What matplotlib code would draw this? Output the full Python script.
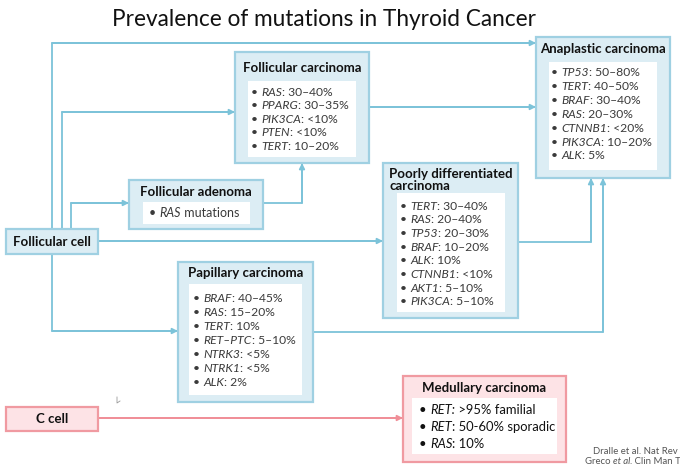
import matplotlib
matplotlib.use("Agg")
import matplotlib.pyplot as plt
from matplotlib.patches import Rectangle

plt.rcParams['font.family'] = ['Lato', 'DejaVu Sans']

# ---------------- data ----------------
chart_title = "Prevalence of mutations in Thyroid Cancer"
origin_labels = ["Follicular cell", "C cell"]

fc_title = "Follicular carcinoma"
fc_genes = ["RAS", "PPARG", "PIK3CA", "PTEN", "TERT"]
fc_values = [": 30–40%", ": 30–35%", ": <10%", ": <10%", ": 10–20%"]

fa_title = "Follicular adenoma"
fa_genes = ["RAS"]
fa_values = [" mutations"]

ana_title = "Anaplastic carcinoma"
ana_genes = ["TP53", "TERT", "BRAF", "RAS", "CTNNB1", "PIK3CA", "ALK"]
ana_values = [": 50–80%", ": 40–50%", ": 30–40%", ": 20–30%", ": <20%", ": 10–20%", ": 5%"]

pd_title = "Poorly differentiated\ncarcinoma"
pd_genes = ["TERT", "RAS", "TP53", "BRAF", "ALK", "CTNNB1", "AKT1", "PIK3CA"]
pd_values = [": 30–40%", ": 20–40%", ": 20–30%", ": 10–20%", ": 10%", ": <10%", ": 5–10%", ": 5–10%"]

pap_title = "Papillary carcinoma"
pap_genes = ["BRAF", "RAS", "TERT", "RET–PTC", "NTRK3", "NTRK1", "ALK"]
pap_values = [": 40–45%", ": 15–20%", ": 10%", ": 5–10%", ": <5%", ": <5%", ": 2%"]

med_title = "Medullary carcinoma"
med_genes = ["RET:", "RET", "RAS"]
med_values = [" >95% familial", ": 50-60% sporadic", ": 10%"]

citations = ["Dralle et al. Nat Rev", ("Greco ", "et al.", " Clin Man T")]

# ---------------- styles ----------------
BLUE_FILL = "#dcedf4"
BLUE_EDGE = "#9fd0e2"
LINE_BLUE = "#7cc3d9"
PINK_FILL = "#fde3e6"
PINK_EDGE = "#f09aa1"
LINE_PINK = "#f08f98"
TXT = "#111111"
ITEM_TXT = "#3a3a3a"
HEAD = 9.5
ITEM = 8.7

W, H = 680, 467
fig = plt.figure(figsize=(W / 100, H / 100), dpi=100)
ax = fig.add_axes([0, 0, 1, 1])
ax.set_xlim(0, W)
ax.set_ylim(H, 0)
ax.axis('off')
renderer = fig.canvas.get_renderer()


def box(outer, inner, fill, edge):
    x0, y0, x1, y1 = outer
    ax.add_patch(Rectangle((x0, y0), x1 - x0, y1 - y0, facecolor=fill,
                           edgecolor=edge, lw=1.6, zorder=2))
    if inner is not None:
        a0, b0, a1, b1 = inner
        ax.add_patch(Rectangle((a0, b0), a1 - a0, b1 - b0, facecolor="white",
                               edgecolor="none", zorder=3))


def rich_line(x, y, parts, size, color):
    """parts: list of (text, italic)"""
    for txt, it in parts:
        t = ax.text(x, y, txt, fontsize=size, color=color, va='center', ha='left',
                    style='italic' if it else 'normal', zorder=5)
        bb = t.get_window_extent(renderer=renderer)
        x += bb.width * (W / fig.bbox.width)


def items(xb, y0, dy, genes, values, size=ITEM, color=ITEM_TXT):
    for i, (g, v) in enumerate(zip(genes, values)):
        rich_line(xb, y0 + i * dy, [("• ", False), (g, True), (v, False)], size, color)


def arrow_path(pts, color, lw=1.3):
    xs = [p[0] for p in pts]
    ys = [p[1] for p in pts]
    ax.plot(xs, ys, color=color, lw=lw, solid_capstyle='butt', zorder=1)
    ax.annotate("", xy=pts[-1], xytext=pts[-2],
                arrowprops=dict(arrowstyle='-|>', color=color, lw=lw,
                                mutation_scale=8, shrinkA=0, shrinkB=0),
                zorder=1)


# ---------------- arrows ----------------
arrow_path([(52, 229), (52, 43), (536, 43)], LINE_BLUE)
arrow_path([(62, 229), (62, 112), (235, 112)], LINE_BLUE)
arrow_path([(71, 229), (71, 203), (129, 203)], LINE_BLUE)
arrow_path([(263, 203), (302, 203), (302, 163)], LINE_BLUE)
arrow_path([(369, 107), (536, 107)], LINE_BLUE)
arrow_path([(98, 241), (383, 241)], LINE_BLUE)
arrow_path([(52, 254), (52, 331), (178, 331)], LINE_BLUE)
arrow_path([(518, 242), (591, 242), (591, 178)], LINE_BLUE)
arrow_path([(313, 332), (603, 332), (603, 178)], LINE_BLUE)
arrow_path([(98, 418), (403, 418)], LINE_PINK)

# ---------------- title ----------------
ax.text(324, 19, chart_title, fontsize=16.3, color=TXT, ha='center', va='center')

# ---------------- origin boxes ----------------
box((6, 229, 98, 254), None, BLUE_FILL, BLUE_EDGE)
ax.text(52, 241.5, origin_labels[0], fontsize=HEAD, weight='bold', color=TXT,
        ha='center', va='center', zorder=5)
box((6, 407, 98, 431), None, PINK_FILL, PINK_EDGE)
ax.text(52, 419, origin_labels[1], fontsize=HEAD, weight='bold', color=TXT,
        ha='center', va='center', zorder=5)

# Follicular carcinoma
box((235, 52, 369, 163), (248, 81, 356, 157), BLUE_FILL, BLUE_EDGE)
ax.text(243, 68, fc_title, fontsize=HEAD, weight='bold', color=TXT, va='center', zorder=5)
items(251, 92, 13.6, fc_genes, fc_values)

# Follicular adenoma
box((129, 180, 263, 229), (143, 202, 250, 224), BLUE_FILL, BLUE_EDGE)
ax.text(140, 192, fa_title, fontsize=HEAD, weight='bold', color=TXT, va='center', zorder=5)
items(149, 213, 13.6, fa_genes, fa_values, size=9.0)

# Anaplastic carcinoma
box((536, 37, 670, 178), (549, 62, 657, 170), BLUE_FILL, BLUE_EDGE)
ax.text(540, 49, ana_title, fontsize=HEAD, weight='bold', color=TXT, va='center', zorder=5)
items(551, 73, 13.8, ana_genes, ana_values)

# Poorly differentiated carcinoma
box((383, 163, 518, 318), (397, 193, 505, 312), BLUE_FILL, BLUE_EDGE)
ax.text(389, 180.5, pd_title, fontsize=HEAD, weight='bold', color=TXT, va='center',
        linespacing=1.0, zorder=5)
items(400, 206, 13.7, pd_genes, pd_values)

# Papillary carcinoma
box((178, 262, 313, 402), (189, 284, 302, 395), BLUE_FILL, BLUE_EDGE)
ax.text(188, 273, pap_title, fontsize=HEAD, weight='bold', color=TXT, va='center', zorder=5)
items(193, 299, 14.0, pap_genes, pap_values)

# Medullary carcinoma
box((403, 376, 566, 462), (412, 398, 557, 454), PINK_FILL, PINK_EDGE)
ax.text(484.5, 388, med_title, fontsize=HEAD, weight='bold', color=TXT, ha='center',
        va='center', zorder=5)
items(419, 410, 17, med_genes, med_values, size=9.4, color=TXT)

# citations
ax.text(593, 451, citations[0], fontsize=6.9, color="#555555", va='center', zorder=5)
rich_line(585, 461.5, [(citations[1][0], False), (citations[1][1], True),
                       (citations[1][2], False)], 6.9, "#555555")

# cursor mark
ax.plot([117, 117, 120], [397, 403, 401], color="#999999", lw=0.6)

fig.savefig("out.png", dpi=100)
